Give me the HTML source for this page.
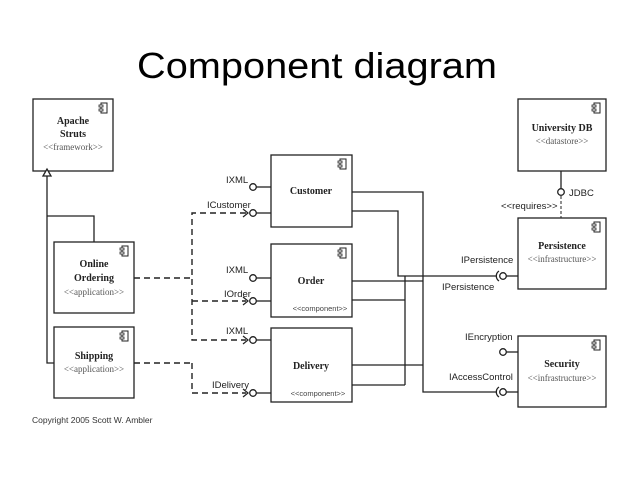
<!DOCTYPE html>
<html><head><meta charset="utf-8"><style>
html,body{margin:0;padding:0;background:#fff;width:638px;height:479px;overflow:hidden}
svg{display:block}
.n{font-family:"Liberation Serif",serif;font-weight:bold;font-size:10px;fill:#222}
.s{font-family:"Liberation Serif",serif;font-size:9px;fill:#555}
.l{font-family:"Liberation Sans",sans-serif;font-size:9.5px;fill:#222}
</style></head><body>
<svg width="638" height="479" viewBox="0 0 638 479" xmlns="http://www.w3.org/2000/svg">
<defs>
<g id="ic"><rect x="2" y="0" width="6" height="10" fill="#fff" stroke="#222" stroke-width="1"/><rect x="0" y="2" width="4" height="2" fill="#fff" stroke="#222" stroke-width="0.8"/><rect x="0" y="6" width="4" height="2" fill="#fff" stroke="#222" stroke-width="0.8"/></g>
</defs>
<text x="317" y="78" text-anchor="middle" font-family="'Liberation Sans',sans-serif" font-size="36" textLength="360" lengthAdjust="spacingAndGlyphs" fill="#000">Component diagram</text>

<g stroke="#222" stroke-width="1.3" fill="#fff">
<rect x="33" y="99" width="80" height="72"/>
<rect x="54" y="242" width="80" height="71"/>
<rect x="54" y="327" width="80" height="71"/>
<rect x="271" y="155" width="81" height="72"/>
<rect x="271" y="244" width="81" height="73"/>
<rect x="271" y="328" width="81" height="74"/>
<rect x="518" y="99" width="88" height="72"/>
<rect x="518" y="218" width="88" height="71"/>
<rect x="518" y="336" width="88" height="71"/>
</g>
<use href="#ic" x="99" y="103"/>
<use href="#ic" x="120" y="246"/>
<use href="#ic" x="120" y="331"/>
<use href="#ic" x="338" y="159"/>
<use href="#ic" x="338" y="248"/>
<use href="#ic" x="592" y="103"/>
<use href="#ic" x="592" y="222"/>
<use href="#ic" x="592" y="340"/>

<text class="n" x="73" y="124" text-anchor="middle">Apache</text>
<text class="n" x="73" y="137" text-anchor="middle">Struts</text>
<text class="s" x="73" y="150" text-anchor="middle">&lt;&lt;framework&gt;&gt;</text>
<text class="n" x="94" y="267" text-anchor="middle">Online</text>
<text class="n" x="94" y="281" text-anchor="middle">Ordering</text>
<text class="s" x="94" y="295" text-anchor="middle">&lt;&lt;application&gt;&gt;</text>
<text class="n" x="94" y="359" text-anchor="middle">Shipping</text>
<text class="s" x="94" y="372" text-anchor="middle">&lt;&lt;application&gt;&gt;</text>
<text class="n" x="311" y="194" text-anchor="middle">Customer</text>
<text class="n" x="311" y="284" text-anchor="middle">Order</text>
<text x="320" y="311" text-anchor="middle" style="font-family:'Liberation Sans',sans-serif;font-size:7.5px;fill:#444">&lt;&lt;component&gt;&gt;</text>
<text class="n" x="311" y="369" text-anchor="middle">Delivery</text>
<text x="318" y="396" text-anchor="middle" style="font-family:'Liberation Sans',sans-serif;font-size:7.5px;fill:#444">&lt;&lt;component&gt;&gt;</text>
<text class="n" x="562" y="131" text-anchor="middle">University DB</text>
<text class="s" x="562" y="144" text-anchor="middle">&lt;&lt;datastore&gt;&gt;</text>
<text class="n" x="562" y="249" text-anchor="middle">Persistence</text>
<text class="s" x="562" y="262" text-anchor="middle">&lt;&lt;infrastructure&gt;&gt;</text>
<text class="n" x="562" y="367" text-anchor="middle">Security</text>
<text class="s" x="562" y="381" text-anchor="middle">&lt;&lt;infrastructure&gt;&gt;</text>

<g stroke="#222" stroke-width="1.3" fill="none">
<polyline points="47,175 47,363 54,363"/>
<polyline points="47,216 94,216 94,242"/>
<line x1="256" y1="187" x2="271" y2="187"/>
<line x1="256" y1="213" x2="271" y2="213"/>
<line x1="256" y1="278" x2="271" y2="278"/>
<line x1="256" y1="301" x2="271" y2="301"/>
<line x1="256" y1="340" x2="271" y2="340"/>
<line x1="256" y1="393" x2="271" y2="393"/>
<line x1="561" y1="171" x2="561" y2="189"/>
<line x1="506" y1="276" x2="518" y2="276"/>
<line x1="506" y1="352" x2="518" y2="352"/>
<line x1="506" y1="392" x2="518" y2="392"/>
<polyline points="352,192 423,192 423,392 496,392"/>
<polyline points="352,211 398,211 398,276 496,276"/>
<line x1="352" y1="281" x2="423" y2="281"/>
<polyline points="352,300 405,300"/>
<line x1="405" y1="276" x2="405" y2="385"/>
<line x1="352" y1="365" x2="423" y2="365"/>
<line x1="352" y1="385" x2="405" y2="385"/>
</g>
<g stroke="#222" stroke-width="1.3" fill="#fff">
<circle cx="253" cy="187" r="3.3"/>
<circle cx="253" cy="213" r="3.3"/>
<circle cx="253" cy="278" r="3.3"/>
<circle cx="253" cy="301" r="3.3"/>
<circle cx="253" cy="340" r="3.3"/>
<circle cx="253" cy="393" r="3.3"/>
<circle cx="561" cy="192" r="3.3"/>
<circle cx="503" cy="276" r="3.3"/>
<circle cx="503" cy="352" r="3.3"/>
<circle cx="503" cy="392" r="3.3"/>
</g>
<g stroke="#222" stroke-width="1.3" fill="none">
<path d="M499,271 A6,6 0 0 0 499,281"/>
<path d="M499,387 A6,6 0 0 0 499,397"/>
<path d="M43,176 L47,169 L51,176 Z" fill="#fff"/>
</g>
<g stroke="#222" stroke-width="1.4" fill="none" stroke-dasharray="6,4">
<line x1="134" y1="278" x2="192" y2="278"/>
<line x1="134" y1="363" x2="192" y2="363"/>
<polyline points="246,213 192,213 192,340 246,340"/>
<polyline points="192,301 246,301"/>
<polyline points="192,363 192,393 246,393"/>
<line x1="561" y1="196" x2="561" y2="218" stroke-dasharray="3,2" stroke-width="1"/>
</g>
<g stroke="#222" stroke-width="1.2" fill="none">
<polyline points="243,209 248,213 243,217"/>
<polyline points="243,297 248,301 243,305"/>
<polyline points="243,336 248,340 243,344"/>
<polyline points="243,389 248,393 243,397"/>
</g>

<text class="l" x="226" y="183">IXML</text>
<text class="l" x="207" y="208">ICustomer</text>
<text class="l" x="226" y="273">IXML</text>
<text class="l" x="224" y="297">IOrder</text>
<text class="l" x="226" y="334">IXML</text>
<text class="l" x="212" y="388">IDelivery</text>
<text class="l" x="569" y="196">JDBC</text>
<text class="l" x="501" y="209">&lt;&lt;requires&gt;&gt;</text>
<text class="l" x="461" y="263">IPersistence</text>
<text class="l" x="442" y="290">IPersistence</text>
<text class="l" x="465" y="340">IEncryption</text>
<text class="l" x="449" y="380">IAccessControl</text>
<text x="32" y="423" font-family="'Liberation Sans',sans-serif" font-size="8.5" fill="#333">Copyright 2005 Scott W. Ambler</text>
</svg>
</body></html>
